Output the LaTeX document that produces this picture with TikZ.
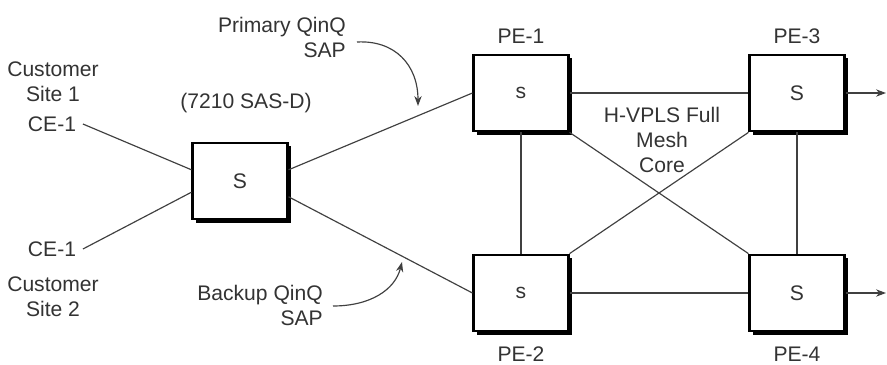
\documentclass[tikz,border=0pt]{standalone}
\usepackage{fontspec}
\setmainfont{Liberation Sans}
\usetikzlibrary{positioning,shadows,arrows.meta}

\begin{document}
\begin{tikzpicture}[x=0.03cm, y=-0.03cm,
    every node/.style={font=\fontsize{18}{21.5}\selectfont, text=black!80},
    switch/.style={draw=black, line width=1.8pt, fill=white,
        minimum width=2.85cm, minimum height=2.3cm,
        drop shadow={shadow xshift=0.1cm, shadow yshift=-0.1cm, fill=black, opacity=1}},
    lbl/.style={inner sep=0pt, align=center},
    celbl/.style={inner sep=0.2cm},
    link/.style={draw=black!75, line width=1pt},
    callout/.style={draw=black!75, line width=1pt, -{Stealth[length=0.3cm, width=0.22cm]}}]
\useasboundingbox (0,0) rectangle (887,365);

% Switches
\node[switch] (sas) at (240,181) {S};
\node[switch] (pe1) at (521,93) {s};
\node[switch] (pe2) at (521,293) {s};
\node[switch] (pe3) at (797,93) {S};
\node[switch] (pe4) at (797,293) {S};

% Labels
\node[lbl, above=0.3cm of pe1] (pe1lbl) {PE-1};
\node[lbl, above=0.3cm of pe3] (pe3lbl) {PE-3};
\node[lbl, below=0.42cm of pe2] (pe2lbl) {PE-2};
\node[lbl, below=0.42cm of pe4] (pe4lbl) {PE-4};
\node[lbl] (saslbl) at (246,103) {(7210 SAS-D)};
\node[lbl] (site1) at (53,82) {Customer\\Site 1};
\node[lbl] (site2) at (53,297) {Customer\\Site 2};
\node[celbl] (ce1a) at (52,124) {CE-1};
\node[celbl] (ce1b) at (52,249) {CE-1};
\node[lbl] (core) at (662,140) {H-VPLS Full\\Mesh\\Core};
\node[lbl, anchor=north east, align=right] (prim) at (346,17) {Primary QinQ\\SAP};
\node[lbl, anchor=north east, align=right] (back) at (323,285) {Backup QinQ\\SAP};

% Access links
\draw[link] (ce1a.east) -- (sas.167);
\draw[link] (ce1b.east) -- (sas.193);
\draw[link] (sas.13) -- (pe1.west);
\draw[link] (sas.-18) -- (pe2.west);

% Mesh core
\draw[link] (pe1.east) -- (pe3.west);
\draw[link] (pe2.east) -- (pe4.west);
\draw[link] (pe1.south) -- (pe2.north);
\draw[link] (pe3.south) -- (pe4.north);
\draw[link] (pe1.south east) -- (pe4.north west);
\draw[link] (pe2.north east) -- (pe3.south west);

% Outgoing
\coordinate (out3) at (886,93);
\coordinate (out4) at (886,293);
\draw[link, -{Stealth[length=0.3cm, width=0.22cm]}] (pe3.east) -- (out3);
\draw[link, -{Stealth[length=0.3cm, width=0.22cm]}] (pe4.east) -- (out4);

% SAP callouts
\coordinate (primtail) at (357,42);
\coordinate (primtip) at (418,106);
\coordinate (backtail) at (333,306);
\coordinate (backtip) at (402,262);
\draw[callout] (primtail) .. controls (395,40) and (418,65) .. (primtip);
\draw[callout] (backtail) .. controls (370,306) and (395,290) .. (backtip);
\end{tikzpicture}
\end{document}
